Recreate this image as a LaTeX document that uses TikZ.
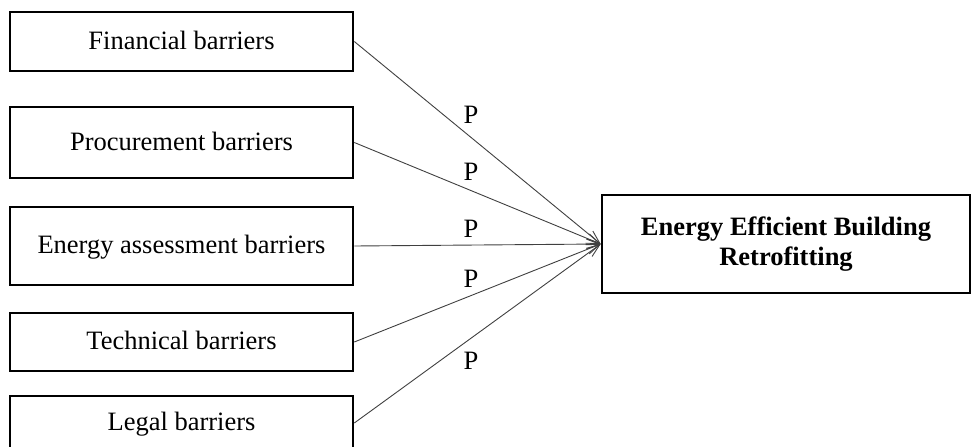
\documentclass[tikz,border=0pt]{standalone}
\usepackage{fontspec}
\setmainfont{Liberation Serif}
\usetikzlibrary{arrows.meta}
\begin{document}
\begin{tikzpicture}[x=1pt,y=-1pt,
  barrier/.style={draw=black,line width=2.6pt,minimum width=343pt,inner sep=0pt,
    text height=18pt,text depth=3pt,font=\fontsize{26.5}{30}\selectfont},
  goal/.style={draw=black,line width=2.6pt,minimum width=368pt,minimum height=98pt,
    inner sep=0pt,align=center,font=\fontsize{26.5}{30}\selectfont\bfseries},
  link/.style={draw=black!75,line width=0.9pt,-{Straight Barb[length=13pt,width=10pt,line width=0.9pt]}},
  plabel/.style={inner sep=0pt,font=\fontsize{26.5}{30}\selectfont}]
\clip (0,0) rectangle (972,447);
\node[barrier,minimum height=59pt] (b1) at (181.5,41.5) {Financial barriers};
\node[barrier,minimum height=71pt] (b2) at (181.5,142.5) {Procurement barriers};
\node[barrier,minimum height=78pt] (b3) at (181.5,246) {Energy assessment barriers};
\node[barrier,minimum height=58pt] (b4) at (181.5,342) {Technical barriers};
\node[barrier,minimum height=54pt] (b5) at (181.5,423) {Legal barriers};
\node[goal] (t) at (786,244) {Energy Efficient Building\\Retrofitting};
\draw[link] (b1.east) -- (t.west);
\draw[link] (b2.east) -- (t.west);
\draw[link] (b3.east) -- (t.west);
\draw[link] (b4.east) -- (t.west);
\draw[link] (b5.east) -- (t.west);
\node[plabel] (p1) at (471,114.5) {P};
\node[plabel] (p2) at (471,172) {P};
\node[plabel] (p3) at (471,229) {P};
\node[plabel] (p4) at (471,279) {P};
\node[plabel] (p5) at (471,361) {P};
\end{tikzpicture}
\end{document}
